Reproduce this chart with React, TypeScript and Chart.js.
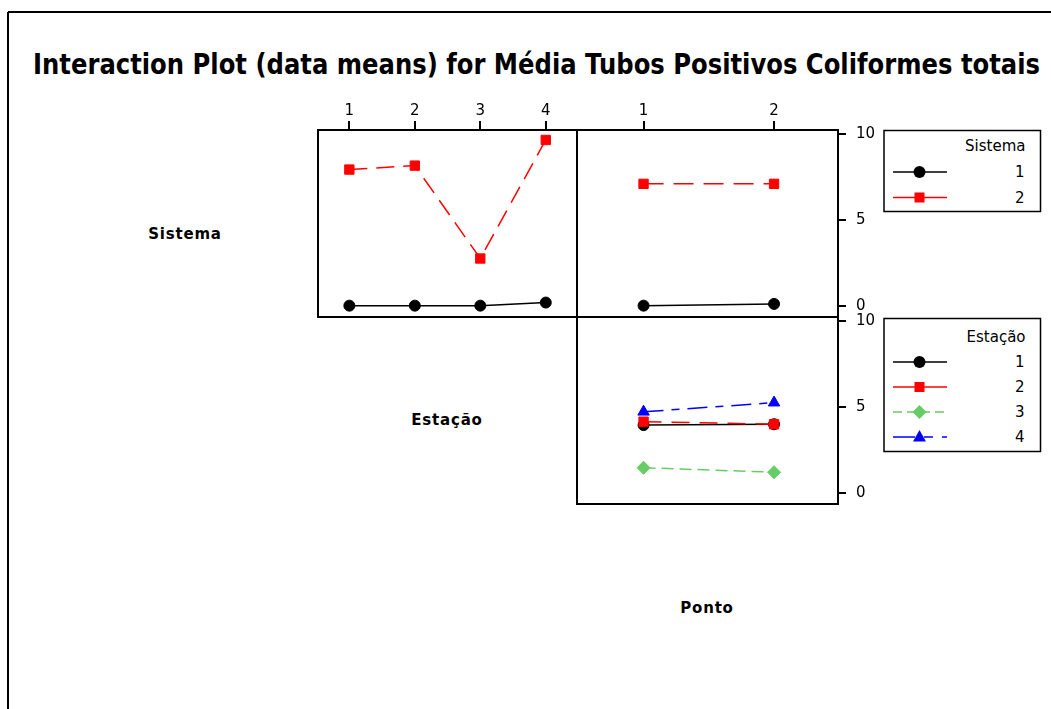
import React, { useEffect, useLayoutEffect, useRef } from 'react';
import { Chart, registerables } from 'chart.js';
Chart.register(...registerables);

// ---- data ----
const estacaoLevels = [1, 2, 3, 4];
const pontoLevels = [1, 2];
const yTicks = [0, 5, 10];
// Panel 1: Sistema means across Estação
const sistema1ByEstacao = [0.02, 0.02, 0.02, 0.2];
const sistema2ByEstacao = [7.93, 8.16, 2.76, 9.65];
// Panel 2: Sistema means across Ponto
const sistema1ByPonto = [0.02, 0.12];
const sistema2ByPonto = [7.1, 7.1];
// Panel 3: Estação means across Ponto
const estacao1ByPonto = [3.95, 4.0];
const estacao2ByPonto = [4.15, 4.0];
const estacao3ByPonto = [1.48, 1.22];
const estacao4ByPonto = [4.72, 5.25];

const TITLE = 'Interaction Plot (data means) for Média Tubos Positivos Coliformes totais';
const FONT = "'DejaVu Sans', sans-serif";

type Series = { label: string; data: number[]; color: string; style: string; radius: number; dash: number[]; width: number };

const S_BLACK = { color: '#000000', style: 'circle', radius: 5.5, width: 1.5 };
const S_RED = { color: '#ff0000', style: 'rect', radius: 6.6, width: 1.5 };
const S_GREEN = { color: '#66cc66', style: 'rectRot', radius: 6.5, width: 1.5 };
const S_BLUE = { color: '#0000ff', style: 'triangle', radius: 6.6, width: 1.5 };

const PAD = 20;

const framePlugin = {
  id: 'frame',
  afterDraw(chart: any) {
    const { ctx, chartArea } = chart;
    ctx.save();
    ctx.strokeStyle = '#000';
    ctx.lineWidth = 2;
    ctx.strokeRect(chartArea.left, chartArea.top, chartArea.right - chartArea.left, chartArea.bottom - chartArea.top);
    ctx.restore();
  },
};

type PanelProps = {
  rect: { l: number; t: number; r: number; b: number };
  xs: number[];
  xMin: number;
  xMax: number;
  yMin: number;
  yMax: number;
  topAxis: boolean;
  rightAxis: boolean;
  series: Series[];
};

function Panel({ rect, xs, xMin, xMax, yMin, yMax, topAxis, rightAxis, series }: PanelProps) {
  const ref = useRef<HTMLCanvasElement>(null);
  const topH = topAxis ? 35 : 0;
  const rightW = rightAxis ? 45 : 0;
  const left = rect.l - PAD;
  const top = rect.t - PAD - topH;
  const width = rect.r - rect.l + 2 * PAD + rightW;
  const height = rect.b - rect.t + 2 * PAD + topH;

  useEffect(() => {
    const chart = new Chart(ref.current as HTMLCanvasElement, {
      type: 'line',
      data: {
        datasets: series.map((s, i) => ({
          label: s.label,
          data: xs.map((x, j) => ({ x, y: s.data[j] })),
          borderColor: s.color,
          backgroundColor: s.color,
          pointBackgroundColor: s.color,
          pointBorderColor: s.color,
          pointBorderWidth: 1,
          pointStyle: s.style as any,
          pointRadius: s.radius,
          pointHoverRadius: s.radius,
          borderWidth: s.width,
          borderDash: s.dash,
          tension: 0,
          fill: false,
          order: -i,
        })),
      },
      options: {
        animation: false,
        responsive: false,
        maintainAspectRatio: false,
        events: [],
        layout: { padding: PAD },
        plugins: { legend: { display: false }, tooltip: { enabled: false }, title: { display: false } },
        scales: {
          x: {
            type: 'linear',
            position: 'top',
            min: xMin,
            max: xMax,
            display: topAxis,
            border: { display: false },
            grid: { drawOnChartArea: false, drawTicks: true, tickLength: 9, color: '#000', lineWidth: 2 },
            ticks: { padding: 1, color: '#000', font: { family: FONT, size: 15 } },
            afterBuildTicks: (s: any) => {
              s.ticks = xs.map((v) => ({ value: v }));
            },
            afterFit: (s: any) => {
              s.height = topH;
            },
          },
          y: {
            type: 'linear',
            position: 'right',
            min: yMin,
            max: yMax,
            display: rightAxis,
            border: { display: false },
            grid: { drawOnChartArea: false, drawTicks: true, tickLength: 8, color: '#000', lineWidth: 2 },
            ticks: { padding: 10, color: '#000', font: { family: FONT, size: 15 } },
            afterBuildTicks: (s: any) => {
              s.ticks = yTicks.map((v) => ({ value: v }));
            },
            afterFit: (s: any) => {
              s.width = rightW;
            },
          },
        } as any,
      },
      plugins: [framePlugin],
    });
    return () => chart.destroy();
  }, []);

  return (
    <canvas
      ref={ref}
      width={width}
      height={height}
      style={{ position: 'absolute', left, top, width, height }}
    />
  );
}

type LegendItem = { label: string; color: string; marker: string; dash?: string };

function Marker({ x, y, marker, color }: { x: number; y: number; marker: string; color: string }) {
  if (marker === 'circle') return <circle cx={x} cy={y} r={6} fill={color} />;
  if (marker === 'rect') return <rect x={x - 5} y={y - 5} width={10} height={10} fill={color} />;
  if (marker === 'diamond')
    return <polygon points={`${x},${y - 7} ${x + 7},${y} ${x},${y + 7} ${x - 7},${y}`} fill={color} />;
  return <polygon points={`${x},${y - 7} ${x + 6.5},${y + 4.5} ${x - 6.5},${y + 4.5}`} fill={color} />;
}

function Legend({ x, y, w, h, title, items, titleY, rowY }: { x: number; y: number; w: number; h: number; title: string; items: LegendItem[]; titleY: number; rowY: number[] }) {
  return (
    <g>
      <rect x={x} y={y} width={w} height={h} fill="white" stroke="#000" strokeWidth={1.5} />
      <text x={x + w - 15} y={titleY} textAnchor="end" dominantBaseline="central" fontFamily={FONT} fontSize={15} fill="#000">
        {title}
      </text>
      {items.map((it, i) => (
        <g key={i}>
          <line x1={x + 9} x2={x + 63} y1={rowY[i]} y2={rowY[i]} stroke={it.color} strokeWidth={1.5} strokeDasharray={it.dash || undefined} />
          <Marker x={x + 35.5} y={rowY[i]} marker={it.marker} color={it.color} />
          <text x={x + w - 16} y={rowY[i]} textAnchor="end" dominantBaseline="central" fontFamily={FONT} fontSize={15} fill="#000">
            {it.label}
          </text>
        </g>
      ))}
    </g>
  );
}

function FitText({ text, left, top, width, style }: { text: string; left: number; top: number; width: number; style: React.CSSProperties }) {
  const ref = useRef<HTMLSpanElement>(null);
  useLayoutEffect(() => {
    const el = ref.current;
    if (!el) return;
    el.style.transform = 'none';
    const w = el.getBoundingClientRect().width;
    if (w > 0) el.style.transform = `scaleX(${width / w})`;
  }, []);
  return (
    <span
      ref={ref}
      style={{ position: 'absolute', left, top, whiteSpace: 'nowrap', transformOrigin: '0 0', lineHeight: 1, ...style }}
    >
      {text}
    </span>
  );
}

export default function App() {
  const top = { l: 318, t: 130, r: 577, b: 317 };
  const p2 = { l: 577, t: 130, r: 838, b: 317 };
  const p3 = { l: 577, t: 317, r: 838, b: 504 };
  const labelStyle: React.CSSProperties = {
    position: 'absolute',
    fontFamily: FONT,
    fontWeight: 'bold',
    fontSize: 15,
    letterSpacing: 0.8,
    transform: 'translate(-50%, -50%)',
    whiteSpace: 'nowrap',
    color: '#000',
  };
  return (
    <div style={{ position: 'fixed', left: 0, top: 0, width: 1051, height: 709, background: '#fff', overflow: 'hidden' }}>
      <svg width={1051} height={709} style={{ position: 'absolute', left: 0, top: 0 }}>
        <line x1={8} y1={12} x2={1051} y2={12} stroke="#000" strokeWidth={2} />
        <line x1={8} y1={12} x2={8} y2={709} stroke="#000" strokeWidth={2} />
        <Legend
          x={884}
          y={130.5}
          w={156.5}
          h={81}
          title="Sistema"
          titleY={146}
          rowY={[172, 197.5]}
          items={[
            { label: '1', color: '#000000', marker: 'circle' },
            { label: '2', color: '#ff0000', marker: 'rect' },
          ]}
        />
        <Legend
          x={884}
          y={318.5}
          w={156.5}
          h={133}
          title="Estação"
          titleY={337}
          rowY={[362, 387, 412, 437]}
          items={[
            { label: '1', color: '#000000', marker: 'circle' },
            { label: '2', color: '#ff0000', marker: 'rect' },
            { label: '3', color: '#66cc66', marker: 'diamond', dash: '9 5' },
            { label: '4', color: '#0000ff', marker: 'triangle', dash: '22 9 9 9' },
          ]}
        />
      </svg>
      <FitText
        text={TITLE}
        left={33}
        top={51}
        width={1007}
        style={{ fontFamily: FONT, fontWeight: 'bold', fontSize: 28, color: '#000' }}
      />
      <div style={{ ...labelStyle, left: 185, top: 234 }}>Sistema</div>
      <div style={{ ...labelStyle, left: 447, top: 420 }}>Estação</div>
      <div style={{ ...labelStyle, left: 707, top: 608 }}>Ponto</div>
      <Panel
        rect={top}
        xs={estacaoLevels}
        xMin={0.521}
        xMax={4.477}
        yMin={-0.64}
        yMax={10.23}
        topAxis={true}
        rightAxis={false}
        series={[
          { label: 'Sistema 1', data: sistema1ByEstacao, ...S_BLACK, dash: [] },
          { label: 'Sistema 2', data: sistema2ByEstacao, ...S_RED, dash: [18, 9] },
        ]}
      />
      <Panel
        rect={p2}
        xs={pontoLevels}
        xMin={0.49}
        xMax={2.49}
        yMin={-0.64}
        yMax={10.23}
        topAxis={true}
        rightAxis={true}
        series={[
          { label: 'Sistema 1', data: sistema1ByPonto, ...S_BLACK, dash: [] },
          { label: 'Sistema 2', data: sistema2ByPonto, ...S_RED, dash: [20, 10] },
        ]}
      />
      <Panel
        rect={p3}
        xs={pontoLevels}
        xMin={0.49}
        xMax={2.49}
        yMin={-0.62}
        yMax={10.21}
        topAxis={false}
        rightAxis={true}
        series={[
          { label: 'Estação 1', data: estacao1ByPonto, ...S_BLACK, dash: [] },
          { label: 'Estação 2', data: estacao2ByPonto, ...S_RED, dash: [18, 10] },
          { label: 'Estação 3', data: estacao3ByPonto, ...S_GREEN, dash: [12, 6] },
          { label: 'Estação 4', data: estacao4ByPonto, ...S_BLUE, dash: [20, 8, 8, 8] },
        ]}
      />
    </div>
  );
}
